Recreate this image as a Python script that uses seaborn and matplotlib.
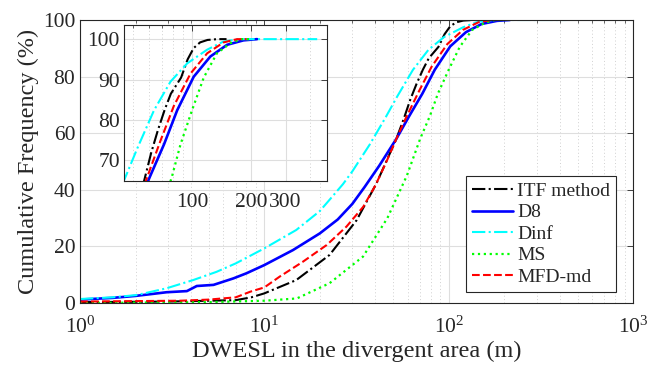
import numpy as np
import pandas as pd
import matplotlib
matplotlib.use("Agg")
import matplotlib.pyplot as plt
import seaborn as sns
from matplotlib.ticker import FixedLocator, LogLocator, NullFormatter, FixedFormatter

# ---------------- data ----------------
methods = ["ITF method", "D8", "Dinf", "MS", "MFD-md"]

itf_x = [1, 3, 5, 7, 8.5, 10, 14.9, 22.6, 31.7, 40.6, 52, 57, 62, 67, 72.5, 78, 88, 95, 102, 110, 120, 135, 150]
itf_y = [0.3, 0.5, 0.8, 1.0, 2.0, 3.4, 8.1, 17, 29.3, 42.3, 58, 65, 72, 77.5, 82.5, 86.5, 90.5, 95, 97.8, 99.2, 99.8, 100, 100]

d8_x = [1, 1.5, 2.0, 2.4, 2.95, 3.8, 4.3, 5.3, 6.8, 8, 10, 14.3, 20, 25, 30, 35, 42, 52, 61, 72, 84, 102, 124, 151, 183, 215]
d8_y = [1.2, 1.8, 2.5, 3.1, 3.8, 4.2, 6.0, 6.4, 8.7, 10.5, 13.4, 18.7, 24.6, 29.5, 35, 41, 48.5, 58, 66, 74, 82.4, 90.7, 95.7, 98.6, 99.7, 100]

dinf_x = [1, 1.5, 2.03, 2.95, 4.11, 5.5, 7, 10, 14.9, 20, 22.6, 26.7, 30, 37.3, 45.4, 52.6, 64, 77.7, 94.5, 119.5, 144.6, 175, 435]
dinf_y = [1.4, 2.0, 2.8, 5.2, 8.1, 11, 14, 19.3, 25.8, 32.5, 36.5, 42, 46.5, 56, 65.5, 73, 82.4, 89.5, 94, 97.4, 99.4, 100, 100]

ms_x = [1, 5, 10, 15, 22.6, 34.3, 46.5, 59.3, 70, 79, 87.4, 100, 114.8, 134, 157, 178, 200]
ms_y = [0, 0.3, 0.8, 1.6, 7, 16.4, 30, 45, 58, 66, 74, 82.4, 90.5, 96.5, 99, 100, 100]

mfd_x = [1, 3.5, 5, 7, 8.4, 10, 12.1, 16.2, 21.8, 27.9, 34.4, 40, 46, 52, 58.7, 69.2, 80.8, 98.3, 119.5, 145, 170, 190]
mfd_y = [0.5, 0.8, 1.2, 2.0, 4.0, 5.5, 9.3, 14.6, 20.5, 27, 34, 41.5, 50, 58, 65.5, 75, 83.5, 91.5, 96.5, 99.2, 100, 100]

series_x = [itf_x, d8_x, dinf_x, ms_x, mfd_x]
series_y = [itf_y, d8_y, dinf_y, ms_y, mfd_y]

main_yticks = [0, 20, 40, 60, 80, 100]
main_xticks = [1, 10, 100, 1000]
main_xticklabels = [r"$10^{0}$", r"$10^{1}$", r"$10^{2}$", r"$10^{3}$"]
inset_xticks = [100, 200, 300]
inset_yticks = [70, 80, 90, 100]

colors = ["black", "#0000ff", "#00ffff", "#00ff00", "#ff0000"]
styles = ["-.", "-", "-.", ":", "--"]
widths = [1.5, 1.9, 1.5, 1.6, 1.5]

# ---------------- style ----------------
sns.set_theme(style="white")
plt.rcParams["font.family"] = ["Liberation Serif", "DejaVu Serif"]
plt.rcParams["mathtext.fontset"] = "custom"
plt.rcParams["mathtext.rm"] = "Liberation Serif"
plt.rcParams["mathtext.it"] = "Liberation Serif:italic"
plt.rcParams["xtick.direction"] = "in"
plt.rcParams["ytick.direction"] = "in"

FS = 15.5
LFS = 17.5
axcol = "#262626"

fig = plt.figure(figsize=(6.51, 3.69), dpi=100)
ax = fig.add_axes([0.1229, 0.1789, 0.8495, 0.7669])
axin = fig.add_axes([0.1905, 0.5103, 0.3123, 0.4220])

frames = []
for m, xs, ys in zip(methods, series_x, series_y):
    frames.append(pd.DataFrame({"x": xs, "y": ys, "method": m}))
df = pd.concat(frames, ignore_index=True)


def draw(a, legend=False):
    for m, c, ls, lw in zip(methods, colors, styles, widths):
        sub = df[df["method"] == m]
        sns.lineplot(data=sub, x="x", y="y", ax=a, color=c, linestyle=ls,
                     linewidth=lw, sort=False, estimator=None,
                     label=m if legend else None, legend=False)


def style_axes(a):
    for s in a.spines.values():
        s.set_color(axcol)
        s.set_linewidth(0.8)
    a.tick_params(which="both", top=True, right=True, colors=axcol,
                  labelcolor="#262626", labelsize=FS)
    a.tick_params(which="major", length=4, width=0.6)
    a.tick_params(which="minor", length=2.5, width=0.5)
    a.grid(True, which="major", color="#dedede", linewidth=0.8, linestyle="-")
    a.grid(True, which="minor", color="#d0d0d0", linewidth=0.7, linestyle=(0, (1, 2.5)), axis="x")
    a.set_axisbelow(True)
    a.set_xlabel("")
    a.set_ylabel("")


# main axes
draw(ax, legend=True)
ax.set_xscale("log")
ax.set_xlim(1, 1000)
ax.set_ylim(0, 100)
style_axes(ax)
ax.xaxis.set_major_locator(FixedLocator(main_xticks))
ax.xaxis.set_major_formatter(FixedFormatter(main_xticklabels))
ax.xaxis.set_minor_locator(LogLocator(base=10, subs=np.arange(2, 10)))
ax.xaxis.set_minor_formatter(NullFormatter())
ax.set_yticks(main_yticks)
ax.tick_params(axis="x", pad=10)
ax.set_xlabel("DWESL in the divergent area (m)", fontsize=LFS, color="#262626", labelpad=2)
ax.set_ylabel("Cumulative Frequency (%)", fontsize=LFS, color="#262626", labelpad=3)

leg = ax.legend(loc="lower right", bbox_to_anchor=(0.969, 0.040), fontsize=14,
                frameon=True, fancybox=False, handlelength=2.1, handletextpad=0.2,
                labelspacing=0.2, borderpad=0.3, borderaxespad=0)
leg.get_frame().set_edgecolor(axcol)
leg.get_frame().set_linewidth(0.8)
leg.get_frame().set_facecolor("white")
leg.get_frame().set_alpha(1)

# inset axes
draw(axin)
axin.set_xscale("log")
axin.set_xlim(45, 490)
axin.set_ylim(65, 103.5)
style_axes(axin)
axin.set_facecolor("white")
axin.xaxis.set_major_locator(FixedLocator(inset_xticks))
axin.xaxis.set_major_formatter(FixedFormatter([str(v) for v in inset_xticks]))
axin.xaxis.set_minor_locator(LogLocator(base=10, subs=np.arange(2, 10)))
axin.xaxis.set_minor_formatter(NullFormatter())
axin.set_yticks(inset_yticks)
axin.tick_params(axis="x", pad=9)
axin.tick_params(axis="y", pad=3)

fig.savefig("out.png", dpi=100)
